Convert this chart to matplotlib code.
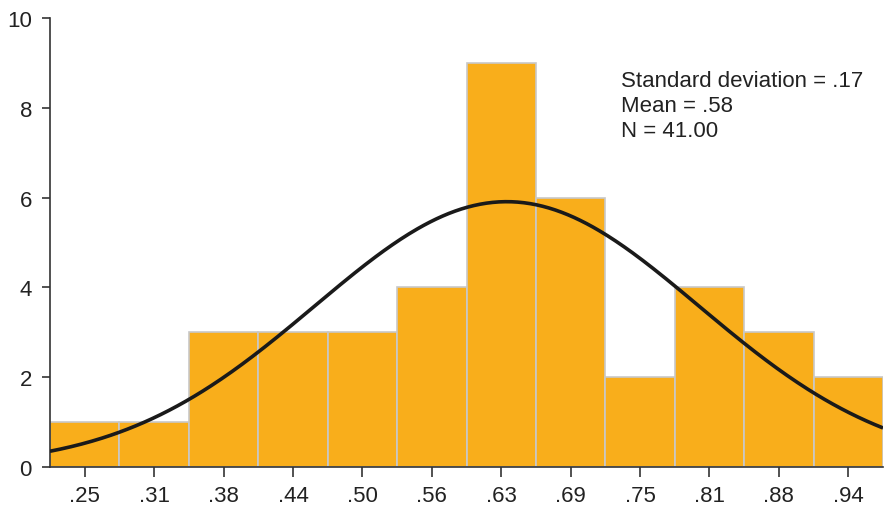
import numpy as np
import matplotlib
matplotlib.use("Agg")
from matplotlib import pyplot as plt

# histogram bins (centres) and counts
bin_centres = [0.25, 0.3125, 0.375, 0.4375, 0.5, 0.5625, 0.625, 0.6875, 0.75, 0.8125, 0.875, 0.9375]
tick_labels = [".25", ".31", ".38", ".44", ".50", ".56", ".63", ".69", ".75", ".81", ".88", ".94"]
counts = [1, 1, 3, 3, 3, 4, 9, 6, 2, 4, 3, 2]
bin_width = 0.0625

# normal curve as drawn (peak sits near .63 in the picture)
curve_mean = 0.63
curve_sd = 0.173
n_total = 41

stats_text = "Standard deviation = .17\nMean = .58\nN = 41.00"

plt.rcParams['font.family'] = ['Liberation Sans', 'DejaVu Sans']
text_col = "#222222"

fig = plt.figure(figsize=(8.89, 5.10), dpi=100)
ax = fig.add_axes([0.0562, 0.0824, 0.9371, 0.8803])

ax.bar(bin_centres, counts, width=bin_width, color="#F9AE1B",
       edgecolor="#c8c8c8", linewidth=1.2, zorder=2)

x0 = bin_centres[0] - bin_width / 2
x1 = bin_centres[-1] + bin_width / 2
xs = np.linspace(x0, x1, 400)
ys = n_total * bin_width / (curve_sd * np.sqrt(2 * np.pi)) * np.exp(-0.5 * ((xs - curve_mean) / curve_sd) ** 2)
ax.plot(xs, ys, color="#1a1a1a", linewidth=2.6, zorder=3, solid_capstyle="butt")

ax.set_xlim(x0, x1)
ax.set_ylim(0, 10)
ax.set_xticks(bin_centres)
ax.set_xticklabels(tick_labels)
ax.set_yticks([0, 2, 4, 6, 8, 10])

for side in ["top", "right"]:
    ax.spines[side].set_visible(False)
for side in ["left", "bottom"]:
    ax.spines[side].set_color("#333333")
    ax.spines[side].set_linewidth(1.2)

ax.tick_params(axis="both", colors="#333333", labelcolor=text_col, labelsize=16,
               width=1.2, direction="out")
ax.tick_params(axis="x", length=7, pad=6)
ax.tick_params(axis="y", length=6, pad=7)

ax.text(0.7328, 8.06, stats_text, fontsize=16, color=text_col,
        ha="left", va="center", linespacing=1.25)

fig.savefig("out.png", dpi=100)
